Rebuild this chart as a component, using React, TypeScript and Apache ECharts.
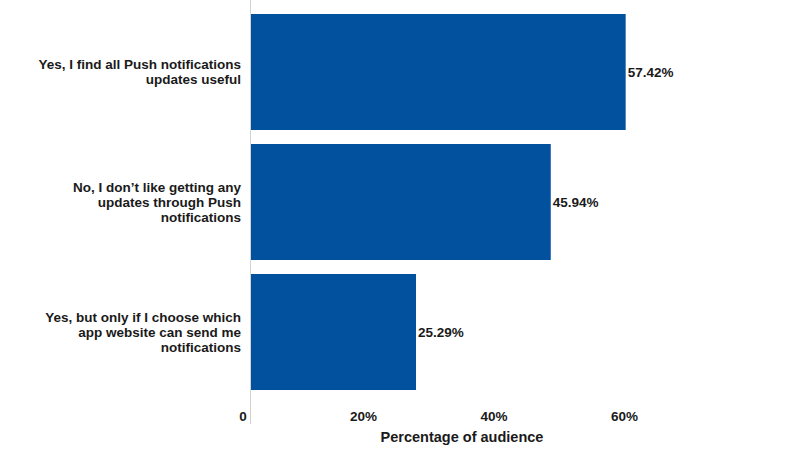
import React, { useEffect, useRef } from "react";
import * as echarts from "echarts";

const categories = [
  "Yes, I find all Push notifications\nupdates useful",
  "No, I don’t like getting any\nupdates through Push\nnotifications",
  "Yes, but only if I choose which\napp website can send me\nnotifications",
];
const values = [57.42, 45.94, 25.29];
const tickValues = [0, 20, 40, 60];
const axisTitle = "Percentage of audience";

export default function App() {
  const ref = useRef<HTMLDivElement>(null);
  useEffect(() => {
    if (!ref.current) return;
    const chart = echarts.init(ref.current, null, { renderer: "svg" });
    const font = "Arial, 'Liberation Sans', Helvetica, sans-serif";
    chart.setOption({
      animation: false,
      grid: { left: 251, top: 7, width: 522, height: 390, containLabel: false },
      xAxis: {
        type: "value",
        min: 0,
        max: 80,
        interval: 20,
        axisLine: { show: false },
        axisTick: { show: false },
        splitLine: { show: false },
        name: axisTitle,
        nameLocation: "middle",
        nameGap: 32,
        nameTextStyle: {
          fontFamily: font,
          fontWeight: "bold",
          fontSize: 14.5,
          color: "#1a1a1a",
          padding: [0, 100, 0, 0],
        },
        axisLabel: {
          margin: 12,
          fontFamily: font,
          fontWeight: "bold",
          fontSize: 13.5,
          color: "#1a1a1a",
          formatter: (v: number) => {
            if (!tickValues.includes(v)) return "";
            if (v === 0) return "{z|0}";
            return "{p|" + v + "%}";
          },
          rich: {
            z: {
              fontFamily: font,
              fontWeight: "bold",
              fontSize: 13.5,
              color: "#1a1a1a",
              padding: [0, 16, 0, 0],
            },
            p: {
              fontFamily: font,
              fontWeight: "bold",
              fontSize: 13.5,
              color: "#1a1a1a",
              padding: [0, 36, 0, 0],
            },
          },
        },
      },
      yAxis: {
        type: "category",
        data: categories,
        inverse: true,
        axisLine: { show: false },
        axisTick: { show: false },
        axisLabel: {
          margin: 10,
          fontFamily: font,
          fontWeight: "bold",
          fontSize: 13.5,
          lineHeight: 15,
          color: "#1a1a1a",
          align: "right",
        },
      },
      graphic: [
        {
          type: "line",
          shape: { x1: 250.5, y1: 0, x2: 250.5, y2: 424 },
          style: { stroke: "#d3d3d3", lineWidth: 1 },
          z: 100,
        },
      ],
      series: [
        {
          type: "bar",
          data: values,
          barWidth: 116,
          itemStyle: { color: "#02519f" },
          label: {
            show: true,
            position: "right",
            distance: 2,
            fontFamily: font,
            fontWeight: "bold",
            fontSize: 13.5,
            color: "#1a1a1a",
            formatter: (p: any) => p.value.toFixed(2) + "%",
          },
        },
      ],
    });
    return () => chart.dispose();
  }, []);
  return (
    <div
      ref={ref}
      style={{ position: "absolute", left: 0, top: 0, width: 790, height: 449 }}
    />
  );
}
